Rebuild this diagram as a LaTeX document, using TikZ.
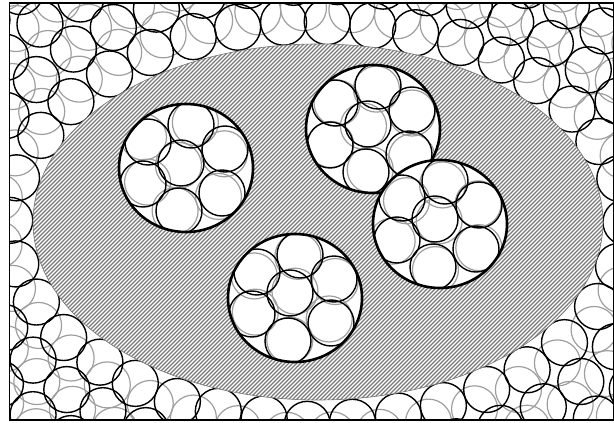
\documentclass[tikz,border=0pt]{standalone}
\usetikzlibrary{calc}
\tikzset{
  cell/.style={draw=black,line width=1.4pt},
  ghost/.style={draw=black!38,line width=1.2pt},
  rim/.style={draw=black,line width=2.6pt},
  hatch/.style={draw=black!52,line width=1.2pt},
  edge/.style={draw=black!55,line width=0.6pt},
  frame/.style={draw=black,line width=1.4pt},
}
% one ring of cells round the ellipse: style, extra radius, start angle, count, spacing
\newcommand{\packring}[5]{%
  \gdef\ringt{#3}%
  \foreach \k in {1,...,#4} {
    \pgfmathsetmacro\px{318+(308+#2)*cos(\ringt)+1.5*rand}
    \pgfmathsetmacro\py{222+(201+#2)*sin(\ringt)+1.5*rand}
    \draw[#1] (\px,\py) circle (23pt);
    \pgfmathsetmacro\sp{100*sqrt(((308+#2)/100*sin(\ringt))^2+((201+#2)/100*cos(\ringt))^2)}
    \pgfmathsetmacro\nt{\ringt+#5/\sp*57.296}
    \xdef\ringt{\nt}
  }}
% one cluster, given the centre of its rim
\newcommand{\cluster}[2]{%
  \fill[white] (#1,#2) ellipse [x radius=67pt,y radius=64pt];
  \begin{scope}
    \clip (#1,#2) ellipse [x radius=67pt,y radius=64pt];
    \foreach \dx/\dy in {0/0,10/-38,44/-14,41/30,-2/48,-38/21,-33/-21}
      \draw[ghost] (#1-5+\dx+5*rand,#2-5+\dy+5*rand) circle (23pt);
    \foreach \dx/\dy in {0/0,10/-38,44/-14,41/30,-2/48,-38/21,-33/-21}
      \draw[cell] (#1-5+\dx,#2-5+\dy) circle (23pt);
  \end{scope}
  \draw[rim] (#1,#2) ellipse [x radius=67pt,y radius=64pt];
}

\begin{document}
\begin{tikzpicture}[x=1pt,y=-1pt]
  \useasboundingbox (0,0) rectangle (614,423);
  \pgfmathsetseed{4}

  % outer packing, ring by ring
  \begin{scope}
    \clip (9.5,3) rectangle (613.5,420);
    \foreach \add/\n/\s in {13/36/47.19,53/41/47.5,93/46/47.76,133/52/47.05,173/57/47.32}
      {\packring{ghost}{\add}{6}{\n}{\s}}
    \foreach \add/\n/\s in {0/36/44.92,40/41/45.5,80/46/45.98,120/52/45.48,160/57/45.88}
      {\packring{cell}{\add}{0}{\n}{\s}}
  \end{scope}

  % hatched ellipse
  \fill[white] (318,222) ellipse [x radius=285pt,y radius=178pt];
  \begin{scope}
    \clip (318,222) ellipse [x radius=285pt,y radius=178pt];
    \foreach \c in {40,44,...,1040}
      \draw[hatch] (\c-450,450) -- (\c+50,-50);
  \end{scope}
  \draw[edge] (318,222) ellipse [x radius=285pt,y radius=178pt];

  % clusters
  \cluster{186}{168}
  \cluster{373}{129}
  \cluster{440}{224}
  \cluster{295}{298}

  \draw[frame] (9.5,3) rectangle (613.5,420);
\end{tikzpicture}
\end{document}
